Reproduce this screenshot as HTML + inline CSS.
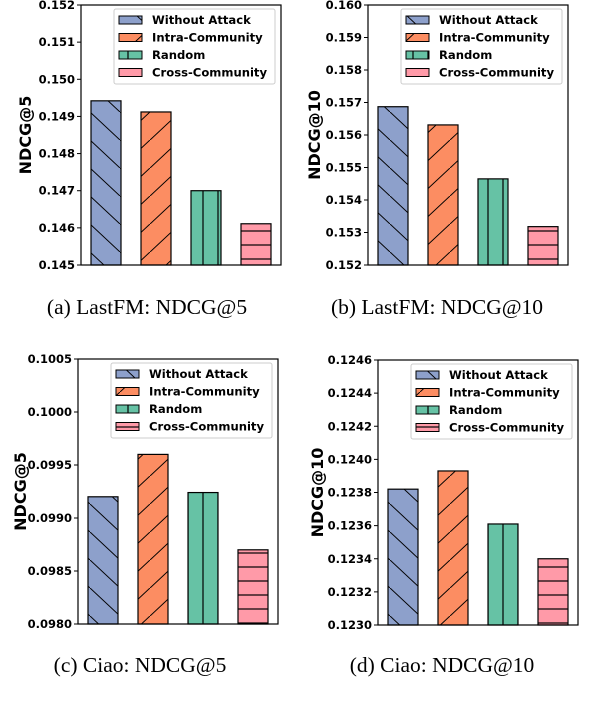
<!DOCTYPE html>
<html><head><meta charset="utf-8"><style>
html,body{margin:0;padding:0;background:#fff;}
svg{display:block;}
</style></head><body>
<svg id="chart" width="600" height="712" xmlns="http://www.w3.org/2000/svg">
<defs>
<pattern id="hBack" patternUnits="userSpaceOnUse" width="30" height="28"><line x1="0" y1="0" x2="30" y2="28" stroke="#000" stroke-width="1"/><line x1="-30" y1="-28" x2="0" y2="0" stroke="#000"/></pattern>
<pattern id="hFwd" patternUnits="userSpaceOnUse" width="30" height="28"><line x1="0" y1="28" x2="30" y2="0" stroke="#000" stroke-width="1"/></pattern>
<pattern id="hVert" patternUnits="userSpaceOnUse" width="15" height="10"><line x1="8" y1="0" x2="8" y2="10" stroke="#000" stroke-width="1.2"/></pattern>
<pattern id="hHor" patternUnits="userSpaceOnUse" width="10" height="14"><line x1="0" y1="7" x2="10" y2="7" stroke="#000" stroke-width="1.2"/></pattern>
</defs>
</svg>
<script>
const seriesNames = ["Without Attack","Intra-Community","Random","Cross-Community"];
const lastfmNdcg5 = [0.14942, 0.14912, 0.14700, 0.14611];
const lastfmNdcg10 = [0.15687, 0.15631, 0.15465, 0.15318];
const ciaoNdcg5 = [0.09920, 0.09960, 0.09924, 0.09870];
const ciaoNdcg10 = [0.12382, 0.12393, 0.12361, 0.12340];
const ticksA = ["0.145","0.146","0.147","0.148","0.149","0.150","0.151","0.152"];
const ticksB = ["0.152","0.153","0.154","0.155","0.156","0.157","0.158","0.159","0.160"];
const ticksC = ["0.0980","0.0985","0.0990","0.0995","0.1000","0.1005"];
const ticksD = ["0.1230","0.1232","0.1234","0.1236","0.1238","0.1240","0.1242","0.1244","0.1246"];

const colors = ["#8DA0CB","#FC8D62","#66C2A5","#FF9AA8"];
const hatches = ["hBack","hFwd","hVert","hHor"];
const NS = "http://www.w3.org/2000/svg";
const svg = document.getElementById('chart');
function mk(tag, attrs, parent){const e=document.createElementNS(NS,tag);for(const k in attrs)e.setAttribute(k,attrs[k]);(parent||svg).appendChild(e);return e;}

const panels = [
 {id:"a", vals:lastfmNdcg5, ticks:ticksA, L:81, T:5, B:265, ylab:"NDCG@5", cap:"(a)  LastFM: NDCG@5", capX:147, capY:314, yl:25},
 {id:"b", vals:lastfmNdcg10, ticks:ticksB, L:368, T:5, B:265, ylab:"NDCG@10", cap:"(b)  LastFM: NDCG@10", capX:437, capY:314, yl:314},
 {id:"c", vals:ciaoNdcg5, ticks:ticksC, L:78, T:359, B:624, ylab:"NDCG@5", cap:"(c)  Ciao: NDCG@5", capX:140, capY:672, yl:20},
 {id:"d", vals:ciaoNdcg10, ticks:ticksD, L:378, T:360, B:625, ylab:"NDCG@10", cap:"(d)  Ciao: NDCG@10", capX:442, capY:672, yl:317}
];

panels.forEach(p=>{
  const g = mk('g',{});
  
  
  const W=200;
  const tv = p.ticks.map(Number);
  const ymin=tv[0], ymax=tv[tv.length-1];
  const y = v => p.B - (v-ymin)/(ymax-ymin)*(p.B-p.T);
  const x = i => p.L + 25 + 50*i;
  p.vals.forEach((v,i)=>{
    const top=y(v), h=p.B-top;
    const r1 = mk('rect',{x:x(i)-15,y:top,width:30,height:h,fill:colors[i]},g);
    
    
    const r2 = mk('rect',{x:x(i)-15,y:top,width:30,height:h,fill:'url(#'+hatches[i]+')',stroke:'#000','stroke-width':1.2},g);
    
    
  });
  const fr = mk('rect',{x:p.L,y:p.T,width:W,height:p.B-p.T,fill:'none',stroke:'#000','stroke-width':1.2},g);
  
  
  p.ticks.forEach((t,k)=>{
    const yy=y(tv[k]);
    mk('line',{x1:p.L-4,x2:p.L,y1:yy,y2:yy,stroke:'#000','stroke-width':1},g);
    const tx = mk('text',{x:p.L-6,y:yy+4,'text-anchor':'end','font-family':'DejaVu Sans, sans-serif','font-weight':'bold','font-size':'11.5'},g);
    
    
    tx.textContent=t;
  });
  const yl = mk('text',{x:0,y:0,transform:'translate('+(p.yl+6)+','+((p.T+p.B)/2)+') rotate(-90)','text-anchor':'middle','font-family':'DejaVu Sans, sans-serif','font-weight':'bold','font-size':'16'},g);
  
  
  yl.textContent=p.ylab;
  const lg = mk('g',{},g);
  
  
  const lx = p.L+33, ly=p.T+4;
  mk('rect',{x:lx,y:ly,width:161,height:75,fill:'#fff',stroke:'#ccc','stroke-width':1,rx:2},lg);
  seriesNames.forEach((n,i)=>{
    const ey = ly+11+17.5*i;
    const e = mk('g',{},lg);
    
    
    mk('rect',{x:lx+5,y:ey-4,width:23,height:8,fill:colors[i]},e);
    mk('rect',{x:lx+5,y:ey-4,width:23,height:8,fill:'url(#'+hatches[i]+')',stroke:'#000','stroke-width':1},e);
    const t = mk('text',{x:lx+38,y:ey+4,'font-family':'DejaVu Sans, sans-serif','font-weight':'bold','font-size':'11.6'},e);
    t.textContent=n;
  });
  const c = mk('text',{x:p.capX,y:p.capY,'text-anchor':'middle','font-family':'Liberation Serif, serif','font-size':'21.5'},g);
  
  
  c.textContent=p.cap;
});
</script>
</body></html>
